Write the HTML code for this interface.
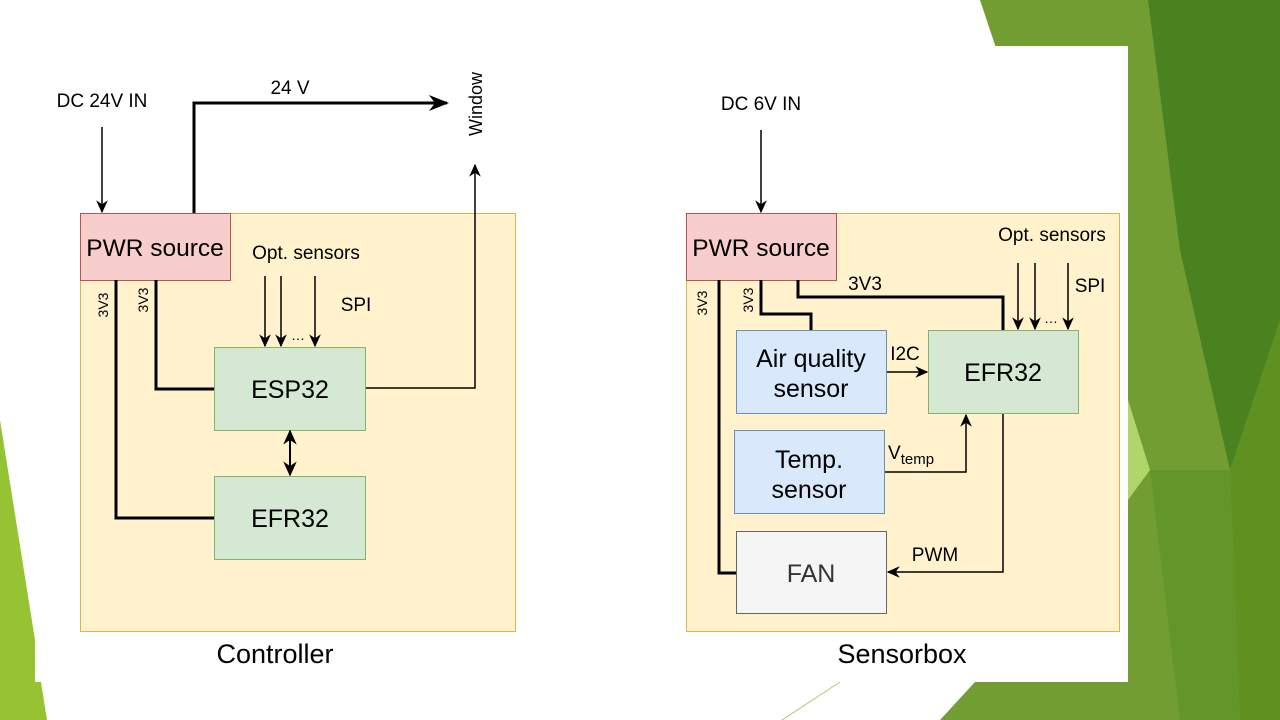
<!DOCTYPE html>
<html><head><meta charset="utf-8"><style>html,body{margin:0;padding:0;background:#fff}svg{display:block}text{font-family:"Liberation Sans",Arial,sans-serif;fill:#000}</style></head>
<body>
<svg width="1280" height="720" viewBox="0 0 1280 720" xmlns="http://www.w3.org/2000/svg">
<defs>
<marker id="a" viewBox="0 0 10 10" refX="9" refY="5" markerWidth="13" markerHeight="13" markerUnits="userSpaceOnUse" orient="auto"><path d="M0,0.5 L10,5 L0,9.5 L3,5 z" fill="#000"/></marker>
<marker id="b" viewBox="0 0 10 10" refX="9" refY="5" markerWidth="20" markerHeight="20" markerUnits="userSpaceOnUse" orient="auto"><path d="M0,1 L10,5 L0,9 L3,5 z" fill="#000"/></marker>
<marker id="c" viewBox="0 0 10 10" refX="9" refY="5" markerWidth="15" markerHeight="15" markerUnits="userSpaceOnUse" orient="auto"><path d="M0,0.5 L10,5 L0,9.5 L3,5 z" fill="#000"/></marker>
</defs>
<rect width="1280" height="720" fill="#fff"/>
<!-- green background -->
<polygon points="980,0 1280,0 1280,720 940,720 975,682 1000,60" fill="#729d33"/>
<polygon points="1148,0 1280,0 1280,320 1230,470 1180,250" fill="#4a821f"/>
<polygon points="1230,470 1280,320 1280,720 1240,720" fill="#5f9020"/>
<polygon points="1128,400 1150,470 1128,500" fill="#b0d66a"/>
<polygon points="1150,470 1230,470 1240,720 1180,720" fill="#62962a"/>
<polygon points="0,420 35,640 35,682 41,682 47,720 0,720" fill="#95c332"/>
<rect x="35" y="46" width="1093" height="636" fill="#fff"/>
<line x1="782" y1="720" x2="840" y2="682" stroke="#a8c870" stroke-width="1"/>

<!-- Controller -->
<rect x="80.5" y="213.5" width="435" height="418" fill="#fff2cc" stroke="#d6b656"/>
<rect x="80.5" y="213.5" width="150" height="67" fill="#f8cecc" stroke="#b85450"/>
<text x="155" y="256" font-size="24.5" text-anchor="middle">PWR source</text>
<text x="102" y="107" font-size="19" text-anchor="middle">DC 24V IN</text>
<line x1="102" y1="127" x2="102" y2="212" stroke="#000" stroke-width="1.5" marker-end="url(#a)"/>
<polyline points="194,213 194,103 447,103" fill="none" stroke="#000" stroke-width="3" marker-end="url(#b)"/>
<text x="290" y="94" font-size="19" text-anchor="middle">24 V</text>
<text transform="translate(482,104) rotate(-90)" font-size="18" text-anchor="middle">Window</text>
<polyline points="366,388 475,388 475,165" fill="none" stroke="#000" stroke-width="1.5" marker-end="url(#a)"/>
<text x="306" y="259" font-size="19" text-anchor="middle">Opt. sensors</text>
<text x="356" y="311" font-size="19" text-anchor="middle">SPI</text>
<line x1="265" y1="276" x2="265" y2="346" stroke="#000" stroke-width="1.5" marker-end="url(#a)"/>
<line x1="281" y1="276" x2="281" y2="346" stroke="#000" stroke-width="1.5" marker-end="url(#a)"/>
<line x1="315" y1="276" x2="315" y2="346" stroke="#000" stroke-width="1.5" marker-end="url(#a)"/>
<text x="298" y="340" font-size="14" text-anchor="middle">…</text>
<rect x="214.5" y="347.5" width="151" height="83" fill="#d5e8d4" stroke="#82b366"/>
<text x="290" y="398" font-size="25" text-anchor="middle">ESP32</text>
<rect x="214.5" y="476.5" width="151" height="83" fill="#d5e8d4" stroke="#82b366"/>
<text x="290" y="527" font-size="25" text-anchor="middle">EFR32</text>
<line x1="290" y1="450" x2="290" y2="475" stroke="#000" stroke-width="2" marker-end="url(#c)"/>
<line x1="290" y1="455" x2="290" y2="431" stroke="#000" stroke-width="2" marker-end="url(#c)"/>
<polyline points="116,280 116,518 214,518" fill="none" stroke="#000" stroke-width="3"/>
<polyline points="156,280 156,389 214,389" fill="none" stroke="#000" stroke-width="3"/>
<text transform="translate(108,305) rotate(-90)" font-size="14" text-anchor="middle">3V3</text>
<text transform="translate(148,300) rotate(-90)" font-size="14" text-anchor="middle">3V3</text>
<text x="275" y="663" font-size="27" text-anchor="middle">Controller</text>

<!-- Sensorbox -->
<rect x="686.5" y="213.5" width="433" height="418" fill="#fff2cc" stroke="#d6b656"/>
<rect x="686.5" y="213.5" width="150" height="67" fill="#f8cecc" stroke="#b85450"/>
<text x="761" y="256" font-size="24.5" text-anchor="middle">PWR source</text>
<text x="761" y="110" font-size="19" text-anchor="middle">DC 6V IN</text>
<line x1="761" y1="130" x2="761" y2="212" stroke="#000" stroke-width="1.5" marker-end="url(#a)"/>
<rect x="736.5" y="330.5" width="150" height="83" fill="#dae8fc" stroke="#6c8ebf"/>
<text x="811" y="367" font-size="25" text-anchor="middle">Air quality</text>
<text x="811" y="397" font-size="25" text-anchor="middle">sensor</text>
<rect x="734.5" y="430.5" width="150" height="83" fill="#dae8fc" stroke="#6c8ebf"/>
<text x="809" y="468" font-size="25" text-anchor="middle">Temp.</text>
<text x="809" y="498" font-size="25" text-anchor="middle">sensor</text>
<rect x="736.5" y="531.5" width="150" height="82" fill="#f5f5f5" stroke="#666"/>
<text x="811" y="582" font-size="25" text-anchor="middle" style="fill:#333">FAN</text>
<rect x="928.5" y="330.5" width="150" height="83" fill="#d5e8d4" stroke="#82b366"/>
<text x="1003" y="381" font-size="25" text-anchor="middle">EFR32</text>
<polyline points="719,280 719,573 736,573" fill="none" stroke="#000" stroke-width="3"/>
<polyline points="761,280 761,314 811,314 811,330" fill="none" stroke="#000" stroke-width="3"/>
<polyline points="798,280 798,297 1003,297 1003,330" fill="none" stroke="#000" stroke-width="3"/>
<text transform="translate(707,303) rotate(-90)" font-size="14" text-anchor="middle">3V3</text>
<text transform="translate(753,300) rotate(-90)" font-size="14" text-anchor="middle">3V3</text>
<text x="865" y="290" font-size="19" text-anchor="middle">3V3</text>
<line x1="887" y1="372" x2="927" y2="372" stroke="#000" stroke-width="1.5" marker-end="url(#a)"/>
<text x="905" y="360" font-size="19" text-anchor="middle">I2C</text>
<polyline points="885,472 966,472 966,415" fill="none" stroke="#000" stroke-width="1.5" marker-end="url(#a)"/>
<text x="888" y="459" font-size="19">V<tspan font-size="15" dy="5">temp</tspan></text>
<polyline points="1003,414 1003,572 888,572" fill="none" stroke="#000" stroke-width="1.5" marker-end="url(#a)"/>
<text x="935" y="561" font-size="19" text-anchor="middle">PWM</text>
<text x="1052" y="241" font-size="19" text-anchor="middle">Opt. sensors</text>
<text x="1090" y="292" font-size="19" text-anchor="middle">SPI</text>
<line x1="1018" y1="263" x2="1018" y2="329" stroke="#000" stroke-width="1.5" marker-end="url(#a)"/>
<line x1="1035" y1="263" x2="1035" y2="329" stroke="#000" stroke-width="1.5" marker-end="url(#a)"/>
<line x1="1068" y1="263" x2="1068" y2="329" stroke="#000" stroke-width="1.5" marker-end="url(#a)"/>
<text x="1051" y="323" font-size="14" text-anchor="middle">…</text>
<text x="902" y="663" font-size="27" text-anchor="middle">Sensorbox</text>
</svg>
</body></html>
